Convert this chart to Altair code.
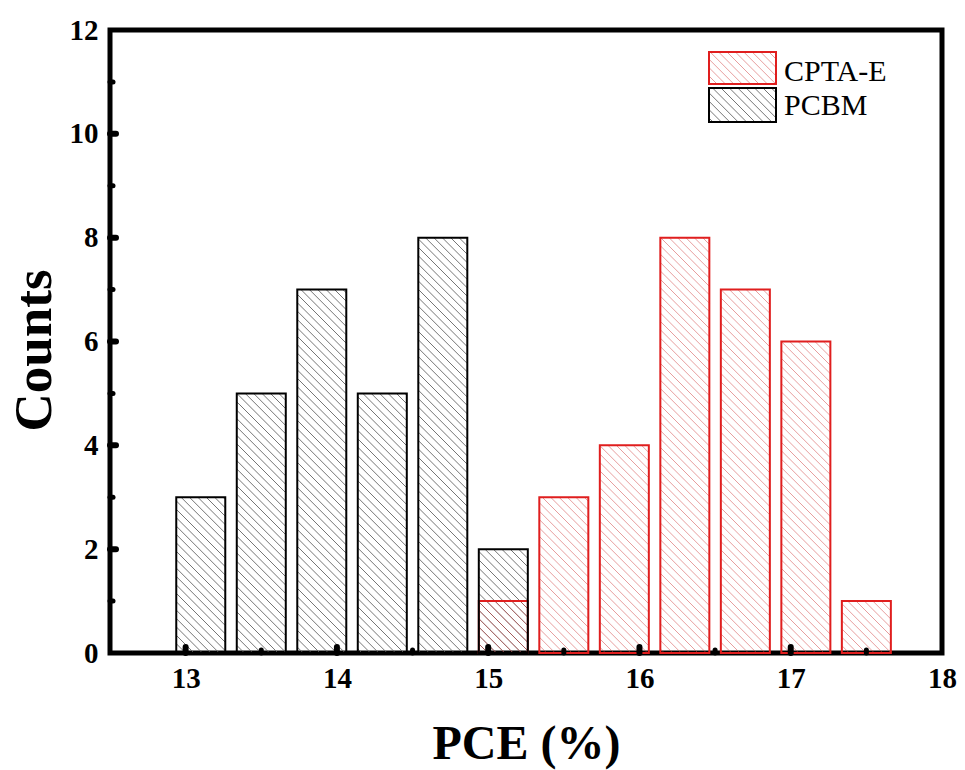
import math
import altair as alt
import pandas as pd

# ---------------- data ----------------
series_names = ["CPTA-E", "PCBM"]
pcbm_centers = [13.1, 13.5, 13.9, 14.3, 14.7, 15.1]
pcbm_counts = [3, 5, 7, 5, 8, 2]
cpta_centers = [15.1, 15.5, 15.9, 16.3, 16.7, 17.1, 17.5]
cpta_counts = [1, 3, 4, 8, 7, 6, 1]

x_label_values = [13, 14, 15, 16, 17, 18]
x_minor_values = [13.5, 14.5, 15.5, 16.5, 17.5]
x_major_tick_values = [13, 14, 15, 16, 17]
y_label_values = [0, 2, 4, 6, 8, 10, 12]
y_major_tick_values = [2, 4, 6, 8, 10]
y_minor_values = [1, 3, 5, 7, 9, 11]

# ---------------- layout / style ----------------
W, H = 832, 623
XMIN, XMAX = 12.5, 18.0
YMIN, YMAX = 0.0, 12.0
KX = W / (XMAX - XMIN)
KY = H / (YMAX - YMIN)
HALF = 0.162          # half bar width (data units)
SP = 8.4              # hatch spacing, pixels (horizontal)
RED = "#e01e1e"
BLACK_HATCH = "#5c5c5c"
RED_HATCH = "#d04040"
FONT = "Liberation Serif"


def hatch_segments(X0, X1, Y0, Y1, sp):
    """45-degree '\\' hatch lines inside a box given in a y-up pixel frame."""
    out = []
    n0 = math.floor((X0 + Y0) / sp) + 1
    n1 = math.ceil((X1 + Y1) / sp)
    for n in range(n0, n1):
        t = n * sp
        xa = max(X0, t - Y1)
        xb = min(X1, t - Y0)
        if xb - xa > 0.5:
            out.append((xa, t - xa, xb, t - xb))
    return out


def px_to_x(px):
    return XMIN + px / KX


def py_up_to_y(py):
    return YMIN + py / KY


def bars_frame(centers, counts, name):
    return pd.DataFrame({
        "series": name,
        "x0": [c - HALF for c in centers],
        "x1": [c + HALF for c in centers],
        "count": counts,
        "base": [0] * len(counts),
    })


def hatch_rows(X0, X1, Y0, Y1, name):
    rows = []
    for xa, ya, xb, yb in hatch_segments(X0, X1, Y0, Y1, SP):
        rows.append({
            "series": name,
            "hx": px_to_x(xa), "hy": py_up_to_y(ya),
            "hx2": px_to_x(xb), "hy2": py_up_to_y(yb),
        })
    return rows


def hatch_frame(centers, counts, name):
    rows = []
    for c, n in zip(centers, counts):
        X0 = (c - HALF - XMIN) * KX
        X1 = (c + HALF - XMIN) * KX
        rows += hatch_rows(X0, X1, 0.0, n * KY, name)
    return pd.DataFrame(rows)


pcbm_bars = bars_frame(pcbm_centers, pcbm_counts, series_names[1])
cpta_bars = bars_frame(cpta_centers, cpta_counts, series_names[0])
pcbm_hatch = hatch_frame(pcbm_centers, pcbm_counts, series_names[1])
cpta_hatch = hatch_frame(cpta_centers, cpta_counts, series_names[0])

# legend boxes: pixel offsets (from top-left of the plot area) -> data units
LEG_X0, LEG_X1, LEG_TX = 599, 666, 674
leg_tops = [22, 58]
leg_bottoms = [54, 92]
leg_baselines = [51, 85]
leg_rows = []
leg_hatch = []
for name, stroke, t, b, tb in zip(series_names, [RED, "black"], leg_tops, leg_bottoms, leg_baselines):
    leg_rows.append({
        "label": name, "stroke": stroke,
        "x0": px_to_x(LEG_X0), "x1": px_to_x(LEG_X1),
        "y0": py_up_to_y(H - t), "y1": py_up_to_y(H - b),
        "tx": px_to_x(LEG_TX), "ty": py_up_to_y(H - tb),
    })
    leg_hatch += hatch_rows(LEG_X0, LEG_X1, H - b, H - t, name)
leg_boxes = pd.DataFrame(leg_rows)
leg_hatch = pd.DataFrame(leg_hatch)

xs = alt.Scale(domain=[XMIN, XMAX], nice=False, zero=False)
ys = alt.Scale(domain=[YMIN, YMAX], nice=False, zero=False)

x_axis = alt.Axis(
    values=x_label_values, format="d", title="PCE (%)", grid=False,
    ticks=False, domain=False, labelFlush=False, labelOverlap=False,
    labelFont=FONT, labelFontSize=29, labelFontWeight="bold", labelColor="black",
    labelPadding=11,
    titleFont=FONT, titleFontSize=48, titleFontWeight="bold", titleColor="black",
    titleX=W / 2, titleY=105, titleBaseline="alphabetic", titleAlign="center",
)
y_axis = alt.Axis(
    values=y_label_values, format="d", title="Counts", grid=False,
    ticks=False, domain=False, labelFlush=False, labelOverlap=False,
    labelFont=FONT, labelFontSize=29, labelFontWeight="bold", labelColor="black",
    labelPadding=12,
    titleFont=FONT, titleFontSize=53, titleFontWeight="bold", titleColor="black",
    titleAngle=-90, titleX=-60, titleY=320, titleBaseline="alphabetic",
    titleAlign="center",
)


def X(field):
    return alt.X(field, scale=xs, axis=x_axis)


def Y(field):
    return alt.Y(field, scale=ys, axis=y_axis)


def hatch_layer(df, color, opacity):
    return alt.Chart(df).mark_rule(
        stroke=color, strokeWidth=0.85, opacity=opacity
    ).encode(x=X("hx:Q"), y=Y("hy:Q"), x2="hx2:Q", y2="hy2:Q")


black_hatch = hatch_layer(pcbm_hatch, BLACK_HATCH, 1.0)
red_hatch = hatch_layer(cpta_hatch, RED_HATCH, 0.6)
leg_hatch_red = hatch_layer(leg_hatch[leg_hatch.series == series_names[0]], RED_HATCH, 0.6)
leg_hatch_black = hatch_layer(leg_hatch[leg_hatch.series == series_names[1]], BLACK_HATCH, 1.0)


def outline_layer(df, color):
    return alt.Chart(df).mark_rect(
        fill="transparent", stroke=color, strokeWidth=2
    ).encode(x=X("x0:Q"), x2="x1:Q", y=Y("count:Q"), y2="base:Q")


red_bars = outline_layer(cpta_bars, RED)
black_bars = outline_layer(pcbm_bars, "black")

# inward ticks
xmaj = alt.Chart(pd.DataFrame({"v": x_major_tick_values})).mark_rule(
    color="black", strokeWidth=6, strokeCap="round"
).encode(x=X("v:Q"), y=alt.value(H), y2=alt.value(H - 6))
xmin_ = alt.Chart(pd.DataFrame({"v": x_minor_values})).mark_rule(
    color="black", strokeWidth=5, strokeCap="round"
).encode(x=X("v:Q"), y=alt.value(H), y2=alt.value(H - 3))
ymaj = alt.Chart(pd.DataFrame({"v": y_major_tick_values})).mark_rule(
    color="black", strokeWidth=6, strokeCap="round"
).encode(y=Y("v:Q"), x=alt.value(0), x2=alt.value(6))
ymin_ = alt.Chart(pd.DataFrame({"v": y_minor_values})).mark_rule(
    color="black", strokeWidth=5, strokeCap="round"
).encode(y=Y("v:Q"), x=alt.value(0), x2=alt.value(3))

leg_rect = alt.Chart(leg_boxes).mark_rect(fill="transparent", strokeWidth=2).encode(
    x=X("x0:Q"), x2="x1:Q", y=Y("y0:Q"), y2="y1:Q",
    stroke=alt.Stroke("stroke:N", scale=None, legend=None),
)
leg_text = alt.Chart(leg_boxes).mark_text(
    align="left", baseline="alphabetic", font=FONT, fontSize=30, color="black"
).encode(x=X("tx:Q"), y=Y("ty:Q"), text="label:N")

chart = alt.layer(
    black_hatch, red_hatch, red_bars, black_bars,
    xmaj, xmin_, ymaj, ymin_,
    leg_hatch_red, leg_hatch_black, leg_rect, leg_text,
).properties(
    width=W, height=H,
    padding={"left": 110, "top": 30, "right": 23, "bottom": 117},
    autosize=alt.AutoSizeParams(type="none"),
    background="white",
).configure_view(
    stroke="black", strokeWidth=5
)

chart.save("out.html", embed_options={"renderer": "svg", "actions": False})
